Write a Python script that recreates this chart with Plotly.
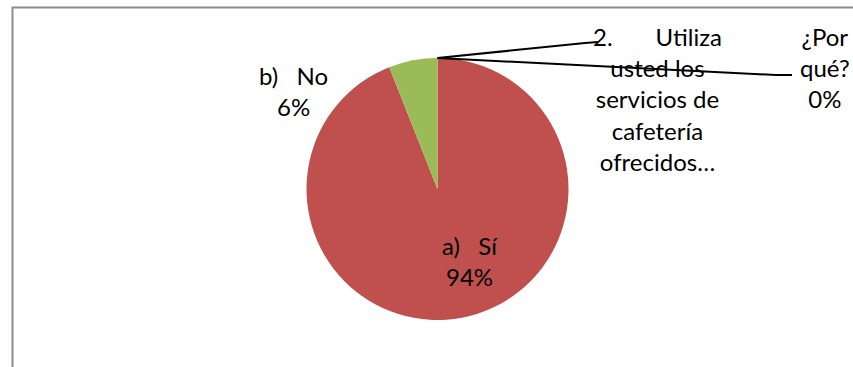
import plotly.graph_objects as go

# ---- data ----
categories = ["2. Utiliza usted los servicios de cafetería ofrecidos…", "¿Por qué?", "a) Sí", "b) No"]
values = [0, 0, 94, 6]
label_lines = [
    ["2.&nbsp;&nbsp;&nbsp;&nbsp;&nbsp;&nbsp; Utiliza", "usted los", "servicios de", "cafetería", "ofrecidos…"],
    ["¿Por", "qué?"],
    ["a)&nbsp;&nbsp; Sí"],
    ["b)&nbsp;&nbsp; No"],
]
show_pct = [False, True, True, True]
colors = ["#4F81BD", "#8064A2", "#C0504D", "#9BBB59"]

W, H = 853, 367
FONT = "Lato, Carlito, Calibri, sans-serif"

def px(x):
    return x / W

def py(y):
    return 1 - y / H

cx, cy, r = 437.5, 189, 131

fig = go.Figure(go.Pie(
    labels=categories,
    values=values,
    sort=False,
    direction="clockwise",
    rotation=0,
    marker=dict(colors=colors, line=dict(width=0)),
    textinfo="none",
    hoverinfo="label+percent",
    showlegend=False,
    domain=dict(x=[px(cx - r), px(cx + r)], y=[py(cy + r), py(cy - r)]),
))

total = sum(values)
# label anchor positions (layout)
label_pos = [(657, 98.5), (825, 67), (470, 261), (293, 91)]

annotations = []
for i, cat in enumerate(categories):
    lines = list(label_lines[i])
    if show_pct[i]:
        lines.append(f"{round(values[i] / total * 100)}%")
    x, y = label_pos[i]
    annotations.append(dict(
        x=px(x), y=py(y), xref="paper", yref="paper",
        text="<br>".join(lines), showarrow=False,
        xanchor="center", yanchor="middle", align="center",
        font=dict(family=FONT, size=24, color="#000000"),
    ))

# leader lines for the zero-value slices, from the top of the pie
top = (cx, cy - r)
shapes = [
    dict(type="line", xref="paper", yref="paper",
         x0=px(top[0]), y0=py(top[1]), x1=px(585), y1=py(43),
         line=dict(color="#000000", width=2)),
    dict(type="line", xref="paper", yref="paper",
         x0=px(585), y0=py(43), x1=px(598), y1=py(42),
         line=dict(color="#000000", width=2)),
    dict(type="line", xref="paper", yref="paper",
         x0=px(top[0]), y0=py(top[1]), x1=px(776), y1=py(75),
         line=dict(color="#000000", width=2)),
    dict(type="line", xref="paper", yref="paper",
         x0=px(776), y0=py(75), x1=px(792), y1=py(75),
         line=dict(color="#000000", width=2)),
    # chart frame
    dict(type="rect", xref="paper", yref="paper",
         x0=px(12.5), y0=-0.2, x1=1.2, y1=py(7.5),
         line=dict(color="#8C8C8C", width=2), fillcolor="rgba(0,0,0,0)"),
]

fig.update_layout(
    width=W, height=H,
    margin=dict(l=0, r=0, t=0, b=0),
    paper_bgcolor="#FFFFFF",
    plot_bgcolor="#FFFFFF",
    annotations=annotations,
    shapes=shapes,
    font=dict(family=FONT),
)

fig.write_html("out.html")
